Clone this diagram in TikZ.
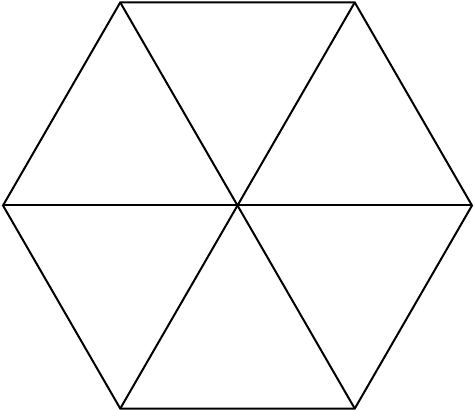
\documentclass[tikz,border=0pt]{standalone}
\usepackage{tikz}
\usetikzlibrary{calc}
\tikzset{%
  edgeLine/.style={%
    line width=2pt,
    draw=black,
    line join=miter
  }
}
\begin{document}
\begin{tikzpicture}[x=1pt,y=1pt]
  \useasboundingbox (0,0) rectangle (474,411);
  \coordinate (center) at (237.5,205.5);
  \foreach \a [count=\i] in {0,60,...,300}
    \path (center) ++(\a:234.5) coordinate (corner\i);

  \draw[edgeLine] (corner1) -- (corner2) -- (corner3) -- (corner4)
    -- (corner5) -- (corner6) -- cycle;
  \foreach \i in {1,...,6}
    \draw[edgeLine] (center) -- (corner\i);
\end{tikzpicture}
\end{document}
